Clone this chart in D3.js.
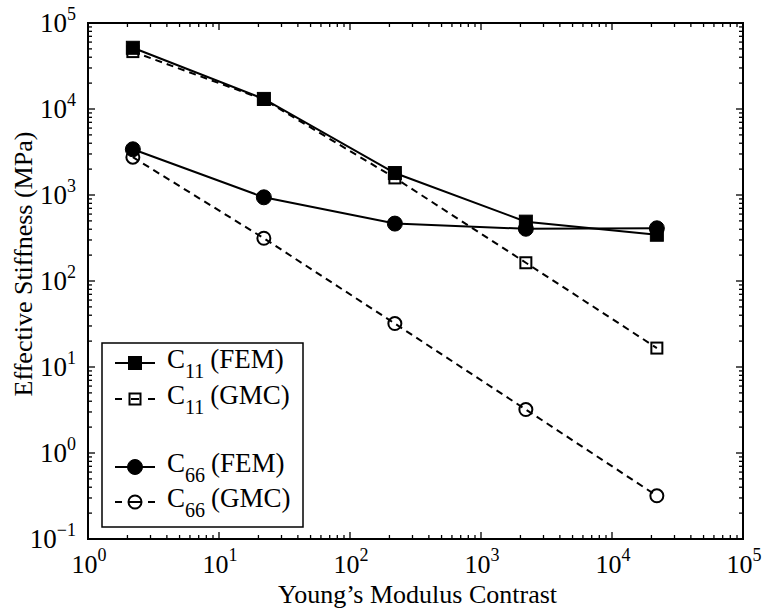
<!DOCTYPE html>
<html>
<head>
<meta charset="utf-8">
<script src="https://cdn.jsdelivr.net/npm/d3@7"></script>
<style>
  body { margin: 0; background: #fff; }
  text { font-family: "Liberation Serif", "Times New Roman", serif; fill: #000; }
</style>
</head>
<body>
<div id="chart"></div>
<script>
// Data
const contrast = [2.2, 22, 220, 2200, 22000];
const c11Fem = [51500, 13100, 1800, 490, 345];
const c11Gmc = [46500, 12900, 1580, 163, 16.6];
const c66Fem = [3400, 940, 465, 405, 410];
const c66Gmc = [2750, 314, 32, 3.2, 0.318];
const xTickExp = [0, 1, 2, 3, 4, 5];
const yTickExp = [-1, 0, 1, 2, 3, 4, 5];

const W = 764, H = 615;
const margin = { top: 23, right: 21, bottom: 76, left: 88 },
      width = W - margin.left - margin.right,
      height = H - margin.top - margin.bottom;

const svg = d3.select("#chart").append("svg")
    .attr("width", W).attr("height", H);
const g = svg.append("g")
    .attr("transform", `translate(${margin.left},${margin.top})`);

const x = d3.scaleLog().domain([1, 1e5]).range([0, width]);
const y = d3.scaleLog().domain([0.1, 1e5]).range([height, 0]);

// minor tick positions (2..9 in each decade)
const minorX = [], minorY = [];
for (let e = 0; e < 5; e++) for (let m = 2; m <= 9; m++) minorX.push(m * Math.pow(10, e));
for (let e = -1; e < 5; e++) for (let m = 2; m <= 9; m++) minorY.push(m * Math.pow(10, e));

const ticks = g.append("g").attr("stroke", "#000").attr("stroke-width", 1.3);
// x ticks, bottom and top, pointing inward
xTickExp.forEach(e => {
  const px = x(Math.pow(10, e));
  ticks.append("line").attr("x1", px).attr("x2", px).attr("y1", height).attr("y2", height - 7);
  ticks.append("line").attr("x1", px).attr("x2", px).attr("y1", 0).attr("y2", 7);
});
minorX.forEach(v => {
  const px = x(v);
  ticks.append("line").attr("x1", px).attr("x2", px).attr("y1", height).attr("y2", height - 4);
  ticks.append("line").attr("x1", px).attr("x2", px).attr("y1", 0).attr("y2", 4);
});
// y ticks, left and right
yTickExp.forEach(e => {
  const py = y(Math.pow(10, e));
  ticks.append("line").attr("y1", py).attr("y2", py).attr("x1", 0).attr("x2", 7);
  ticks.append("line").attr("y1", py).attr("y2", py).attr("x1", width).attr("x2", width - 7);
});
minorY.forEach(v => {
  const py = y(v);
  ticks.append("line").attr("y1", py).attr("y2", py).attr("x1", 0).attr("x2", 4);
  ticks.append("line").attr("y1", py).attr("y2", py).attr("x1", width).attr("x2", width - 4);
});

// frame
g.append("rect")
    .attr("width", width).attr("height", height)
    .attr("fill", "none").attr("stroke", "#000").attr("stroke-width", 2);

// tick labels
function powLabel(sel, e) {
  sel.append("tspan").text("10");
  sel.append("tspan").attr("dy", -12).attr("font-size", 18).text(e < 0 ? "\u22121" : e);
}
xTickExp.forEach(e => {
  const t = g.append("text")
      .attr("x", x(Math.pow(10, e)) + 1)
      .attr("y", height + 34)
      .attr("text-anchor", "middle")
      .attr("font-size", 26);
  powLabel(t, e);
});
yTickExp.forEach(e => {
  const t = g.append("text")
      .attr("x", -12)
      .attr("y", y(Math.pow(10, e)) + 9)
      .attr("text-anchor", "end")
      .attr("font-size", 27);
  powLabel(t, e);
});

// axis titles
g.append("text")
    .attr("x", width / 2 + 2)
    .attr("y", height + 64)
    .attr("text-anchor", "middle")
    .attr("font-size", 26)
    .text("Young\u2019s Modulus Contrast");
g.append("text")
    .attr("transform", `translate(${-56},${height / 2 - 17}) rotate(-90)`)
    .attr("text-anchor", "middle")
    .attr("font-size", 26)
    .text("Effective Stiffness (MPa)");

// series
const series = [
  { sub: "11", tag: "(FEM)", values: c11Fem, dash: null, shape: "square", filled: true },
  { sub: "11", tag: "(GMC)", values: c11Gmc, dash: "7,5", shape: "square", filled: false },
  { sub: "66", tag: "(FEM)", values: c66Fem, dash: null, shape: "circle", filled: true },
  { sub: "66", tag: "(GMC)", values: c66Gmc, dash: "7,5", shape: "circle", filled: false }
];

const line = d3.line().x(d => x(d[0])).y(d => y(d[1]));

function drawMarker(sel, s, cx, cy) {
  if (s.shape === "square") {
    const sz = s.filled ? 13 : 11;
    sel.append("rect")
        .attr("x", cx - sz / 2).attr("y", cy - sz / 2)
        .attr("width", sz).attr("height", sz)
        .attr("fill", s.filled ? "#000" : "none")
        .attr("stroke", "#000").attr("stroke-width", s.filled ? 1 : 2);
  } else {
    const r = s.filled ? 7.5 : 6.5;
    sel.append("circle")
        .attr("cx", cx).attr("cy", cy).attr("r", r)
        .attr("fill", s.filled ? "#000" : "none")
        .attr("stroke", "#000").attr("stroke-width", s.filled ? 1 : 2);
  }
}

series.forEach(s => {
  const pts = contrast.map((c, i) => [c, s.values[i]]);
  g.append("path")
      .datum(pts)
      .attr("d", line)
      .attr("fill", "none")
      .attr("stroke", "#000")
      .attr("stroke-width", 2)
      .attr("stroke-dasharray", s.dash);
  const mg = g.append("g");
  pts.forEach(p => drawMarker(mg, s, x(p[0]), y(p[1])));
});

// legend
const legend = svg.append("g");
legend.append("rect")
    .attr("x", 102).attr("y", 343)
    .attr("width", 201).attr("height", 184)
    .attr("fill", "#fff").attr("stroke", "#000").attr("stroke-width", 1.5);
const rowY = [363, 399, 467, 502];
series.forEach((s, i) => {
  const ly = rowY[i];
  const seg = (a, b) => legend.append("line")
      .attr("x1", a).attr("x2", b).attr("y1", ly).attr("y2", ly)
      .attr("stroke", "#000").attr("stroke-width", 2);
  if (s.dash) {
    seg(115, 122);
    seg(148, 155);
    if (s.shape === "square") seg(131, 139); else seg(129, 141);
  } else {
    seg(115, 155);
  }
  drawMarker(legend, s, 135, ly);
  const t = legend.append("text")
      .attr("x", 167).attr("y", ly + 5)
      .attr("font-size", 27);
  t.append("tspan").text("C");
  t.append("tspan").attr("dy", 10).attr("font-size", 20).text(s.sub);
  t.append("tspan").attr("dy", -10).attr("dx", 6).text(s.tag);
});
</script>
</body>
</html>
